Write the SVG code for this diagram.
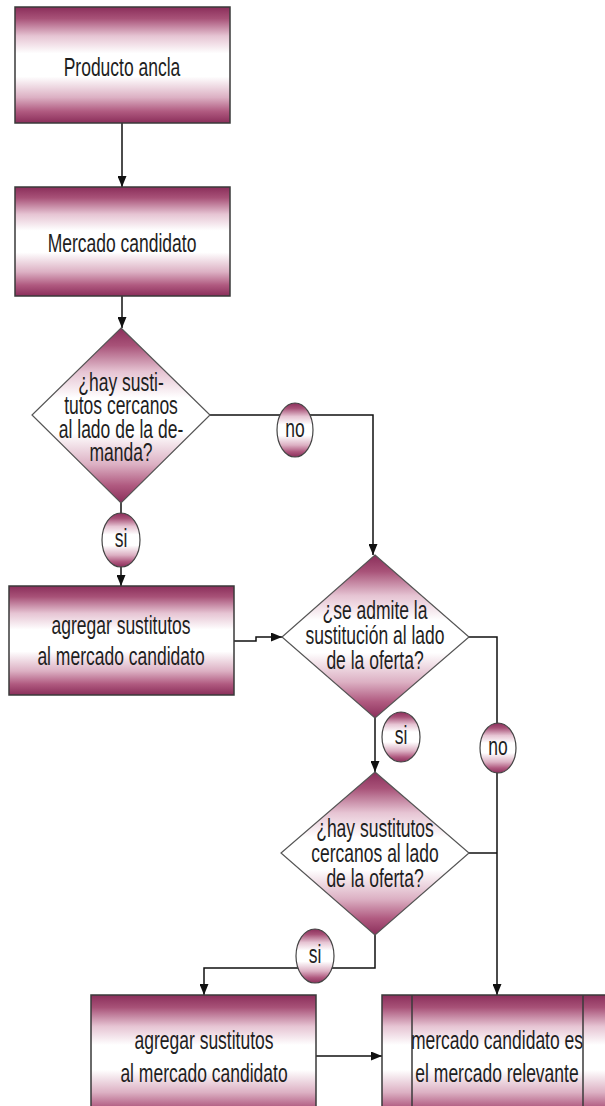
<svg xmlns="http://www.w3.org/2000/svg" width="605" height="1106" viewBox="0 0 605 1106">
<style>
.t{font-family:"Liberation Sans",Arial,sans-serif;font-size:17.5px;text-anchor:middle;fill:#1e1e1e}
.box{fill:url(#g);stroke:#3a3a3a;stroke-width:1.5}
.dia{fill:url(#g);stroke:#555;stroke-width:1.2}
.lbl{fill:url(#g);stroke:#444;stroke-width:1.2}
.c{fill:none;stroke:#111;stroke-width:1.5}
</style>
<defs>
<linearGradient id="g" x1="0" y1="0" x2="0" y2="1">
<stop offset="0" stop-color="#8a2e5a"/>
<stop offset="0.1" stop-color="#a85278"/>
<stop offset="0.25" stop-color="#e6c4d3"/>
<stop offset="0.4" stop-color="#ffffff"/>
<stop offset="0.6" stop-color="#ffffff"/>
<stop offset="0.78" stop-color="#dcb0c3"/>
<stop offset="0.9" stop-color="#b05a80"/>
<stop offset="1" stop-color="#8a2e5a"/>
</linearGradient>
<marker id="a" markerUnits="userSpaceOnUse" markerWidth="11" markerHeight="9" refX="11" refY="4.5" orient="auto">
<path d="M0,0 L11,4.5 L0,9 z" fill="#111"/>
</marker>
</defs>
<rect width="605" height="1106" fill="#fff"/>

<g id="connectors">
<path class="c" d="M122,123 V187" marker-end="url(#a)"/>
<path class="c" d="M122,296 V328" marker-end="url(#a)"/>
<path class="c" d="M210,415 H373 V555" marker-end="url(#a)"/>
<path class="c" d="M121,503 V586" marker-end="url(#a)"/>
<path class="c" d="M234,641 H256 V637 H282" marker-end="url(#a)"/>
<path class="c" d="M469,637 H497 V995" marker-end="url(#a)"/>
<path class="c" d="M375,718 V772" marker-end="url(#a)"/>
<path class="c" d="M469,853 H497"/>
<path class="c" d="M375,935 V968 H204 V995" marker-end="url(#a)"/>
<path class="c" d="M316,1056 H382" marker-end="url(#a)"/>
</g>

<g id="producto-ancla">
<rect class="box" x="15" y="7" width="215" height="116"/>
<text class="t" transform="translate(122,76) scale(1,1.45)">Producto ancla</text>
</g>

<g id="mercado-candidato">
<rect class="box" x="15" y="187" width="215" height="109"/>
<text class="t" transform="translate(122,252) scale(1,1.45)">Mercado candidato</text>
</g>

<g id="decision-demanda">
<polygon class="dia" points="121,328 210,415 121,503 32,415"/>
<text class="t" transform="translate(121,391) scale(1,1.45)">¿hay susti-</text>
<text class="t" transform="translate(121,414) scale(1,1.45)">tutos cercanos</text>
<text class="t" transform="translate(121,438) scale(1,1.45)">al lado de la de-</text>
<text class="t" transform="translate(121,461) scale(1,1.45)">manda?</text>
</g>

<g id="no-1">
<ellipse class="lbl" cx="295" cy="430" rx="18" ry="27"/>
<text class="t" transform="translate(295,437) scale(1,1.45)">no</text>
</g>

<g id="si-1">
<ellipse class="lbl" cx="121" cy="540" rx="19" ry="27"/>
<text class="t" transform="translate(121,547) scale(1,1.45)">si</text>
</g>

<g id="agregar-1">
<rect class="box" x="9" y="586" width="225" height="109"/>
<text class="t" transform="translate(121,634) scale(1,1.45)">agregar sustitutos</text>
<text class="t" transform="translate(121,665) scale(1,1.45)">al mercado candidato</text>
</g>

<g id="decision-oferta">
<polygon class="dia" points="375,555 469,637 375,718 282,637"/>
<text class="t" transform="translate(375,619) scale(1,1.45)">¿se admite la</text>
<text class="t" transform="translate(375,644) scale(1,1.45)">sustitución al lado</text>
<text class="t" transform="translate(375,669) scale(1,1.45)">de la oferta?</text>
</g>

<g id="si-2">
<ellipse class="lbl" cx="401" cy="737" rx="19" ry="25"/>
<text class="t" transform="translate(401,744) scale(1,1.45)">si</text>
</g>

<g id="no-2">
<ellipse class="lbl" cx="498" cy="748" rx="18" ry="25"/>
<text class="t" transform="translate(498,755) scale(1,1.45)">no</text>
</g>

<g id="decision-sustitutos-oferta">
<polygon class="dia" points="375,772 469,853 375,935 281,853"/>
<text class="t" transform="translate(375,837) scale(1,1.45)">¿hay sustitutos</text>
<text class="t" transform="translate(375,862) scale(1,1.45)">cercanos al lado</text>
<text class="t" transform="translate(375,887) scale(1,1.45)">de la oferta?</text>
</g>

<g id="si-3">
<ellipse class="lbl" cx="315" cy="956" rx="19" ry="27"/>
<text class="t" transform="translate(315,963) scale(1,1.45)">si</text>
</g>

<g id="agregar-2">
<rect class="box" x="91" y="995" width="225" height="125"/>
<text class="t" transform="translate(204,1049) scale(1,1.45)">agregar sustitutos</text>
<text class="t" transform="translate(204,1082) scale(1,1.45)">al mercado candidato</text>
</g>

<g id="mercado-relevante">
<rect class="box" x="382" y="995" width="240" height="125"/>
<line x1="412" y1="995" x2="412" y2="1106" stroke="#3a3a3a" stroke-width="1.5"/>
<line x1="583" y1="995" x2="583" y2="1106" stroke="#3a3a3a" stroke-width="1.5"/>
<text class="t" transform="translate(497,1049) scale(1,1.45)">mercado candidato es</text>
<text class="t" transform="translate(497,1082) scale(1,1.45)">el mercado relevante</text>
</g>
</svg>
